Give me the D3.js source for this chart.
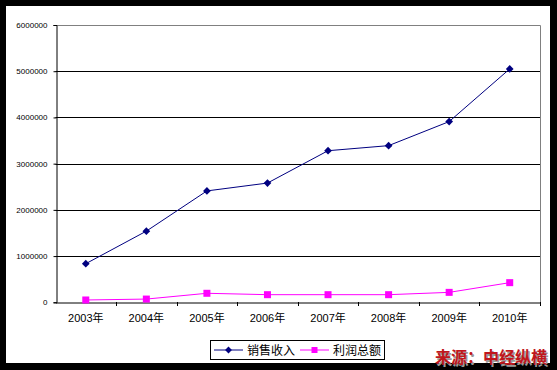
<!DOCTYPE html>
<html>
<head>
<meta charset="utf-8">
<script src="https://cdn.jsdelivr.net/npm/d3@7"></script>
<style>
  body { margin: 0; background: #000; }
  svg { display: block; }
</style>
</head>
<body>
<svg id="chart" width="557" height="370"></svg>
<script>
var years = ['2003年', '2004年', '2005年', '2006年', '2007年', '2008年', '2009年', '2010年'];
var sales = [835000, 1540000, 2410000, 2580000, 3280000, 3390000, 3910000, 5050000];
var profit = [50000, 70000, 195000, 165000, 165000, 165000, 215000, 425000];
var yTicks = [0, 1000000, 2000000, 3000000, 4000000, 5000000, 6000000];
var seriesNames = ['销售收入', '利润总额'];

var svg = d3.select('#chart');

// white chart area inside the black frame
svg.append('rect')
  .attr('x', 6).attr('y', 6)
  .attr('width', 544).attr('height', 357)
  .attr('fill', '#fff');

var plotLeft = 55.5, plotRight = 540, plotTop = 25, plotBottom = 302.3;

var x = d3.scaleBand().domain(years).range([plotLeft, plotRight]);
var y = d3.scaleLinear().domain([0, 6000000]).range([plotBottom, plotTop]);

// gridlines
svg.append('g').selectAll('line')
  .data(yTicks.slice(1, -1))
  .enter().append('line')
  .attr('x1', plotLeft).attr('x2', plotRight)
  .attr('y1', function(d) { return Math.round(y(d)) + 0.5; })
  .attr('y2', function(d) { return Math.round(y(d)) + 0.5; })
  .attr('stroke', '#000');

// plot border top/right in gray
svg.append('path')
  .attr('d', 'M' + plotLeft + ',' + (Math.round(plotTop) + 0.5) + 'H' + (plotRight + 0.5) + 'V' + plotBottom)
  .attr('fill', 'none')
  .attr('stroke', '#808080');

// y axis
var yAxis = svg.append('g')
  .attr('transform', 'translate(' + (Math.round(plotLeft) + 0.5) + ',0)')
  .call(d3.axisLeft(y).tickValues(yTicks).tickSize(3).tickFormat(d3.format('d')));
yAxis.select('.domain').attr('stroke', '#000');
yAxis.selectAll('.tick line').attr('stroke', '#000');
yAxis.selectAll('text')
  .attr('font-family', 'Liberation Sans, Arial, sans-serif')
  .attr('font-size', 8)
  .attr('fill', '#000')
  .attr('x', -9);

// x axis
var xAxis = svg.append('g')
  .attr('transform', 'translate(0,' + (Math.round(plotBottom) + 0.5) + ')')
  .call(d3.axisBottom(x).tickSize(0).tickPadding(12));
xAxis.select('.domain').attr('stroke', '#000');
xAxis.selectAll('text')
  .attr('font-family', 'Liberation Sans, Noto Sans CJK SC, sans-serif')
  .attr('font-size', 11)
  .attr('fill', '#000');

// x ticks at band boundaries
svg.append('g').selectAll('line')
  .data(years)
  .enter().append('line')
  .attr('x1', function(d) { return Math.round(x(d) + x.step()) + 0.5; })
  .attr('x2', function(d) { return Math.round(x(d) + x.step()) + 0.5; })
  .attr('y1', Math.round(plotBottom)).attr('y2', Math.round(plotBottom) + 4)
  .attr('stroke', '#000');

function cx(d, i) { return x(years[i]) + x.bandwidth() / 2; }

var line = d3.line().x(cx).y(function(d) { return y(d); });

// profit series
svg.append('path').datum(profit)
  .attr('d', line).attr('fill', 'none')
  .attr('stroke', '#ff00ff').attr('stroke-width', 1);
svg.append('g').selectAll('rect')
  .data(profit).enter().append('rect')
  .attr('x', function(d, i) { return cx(d, i) - 3.5; })
  .attr('y', function(d) { return y(d) - 3.5; })
  .attr('width', 7).attr('height', 7)
  .attr('fill', '#ff00ff');

// sales series
svg.append('path').datum(sales)
  .attr('d', line).attr('fill', 'none')
  .attr('stroke', '#000080').attr('stroke-width', 1);
svg.append('g').selectAll('path')
  .data(sales).enter().append('path')
  .attr('d', d3.symbol().type(d3.symbolDiamond2).size(38))
  .attr('transform', function(d, i) { return 'translate(' + cx(d, i) + ',' + y(d) + ')'; })
  .attr('fill', '#000080');

// legend
var legend = svg.append('g');
legend.append('rect')
  .attr('x', 210.5).attr('y', 340.5)
  .attr('width', 174).attr('height', 19)
  .attr('fill', '#fff').attr('stroke', '#000');

var legendItems = [
  { name: seriesNames[0], color: '#000080', x: 214 },
  { name: seriesNames[1], color: '#ff00ff', x: 300 }
];
legendItems.forEach(function(item, i) {
  legend.append('line')
    .attr('x1', item.x).attr('x2', item.x + 29)
    .attr('y1', 350).attr('y2', 350)
    .attr('stroke', item.color).attr('stroke-width', 1);
  if (i === 0) {
    legend.append('path')
      .attr('d', d3.symbol().type(d3.symbolDiamond2).size(30))
      .attr('transform', 'translate(' + (item.x + 14.5) + ',350)')
      .attr('fill', item.color);
  } else {
    legend.append('rect')
      .attr('x', item.x + 11.5).attr('y', 347)
      .attr('width', 6).attr('height', 6)
      .attr('fill', item.color);
  }
  legend.append('text')
    .attr('x', item.x + 33).attr('y', 354.5)
    .attr('font-family', 'Noto Sans CJK SC, sans-serif')
    .attr('font-size', 12)
    .attr('fill', '#000')
    .text(item.name);
});

// watermark
var mark = '来源：中经纵横';
svg.append('text')
  .attr('x', 436.5).attr('y', 364.5)
  .attr('font-family', 'Noto Sans CJK SC, sans-serif')
  .attr('font-weight', 'bold')
  .attr('font-size', 16).attr('fill', '#999')
  .text(mark);
svg.append('text')
  .attr('x', 435).attr('y', 363)
  .attr('font-family', 'Noto Sans CJK SC, sans-serif')
  .attr('font-weight', 'bold')
  .attr('font-size', 16).attr('fill', '#c0161c')
  .text(mark);
</script>
</body>
</html>
